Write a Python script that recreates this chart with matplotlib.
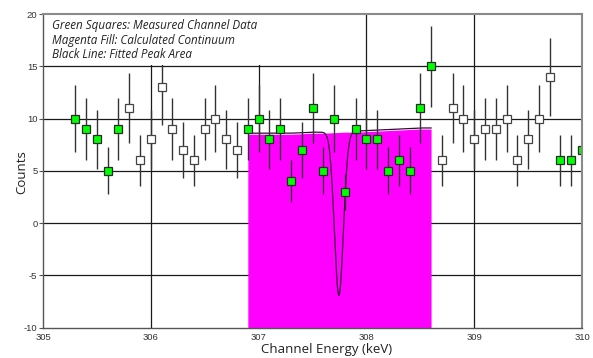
import numpy as np
import matplotlib
matplotlib.use("Agg")
import matplotlib.pyplot as plt
from matplotlib.patches import Rectangle

# ---- data ----
energy = [305.3, 305.4, 305.5, 305.6, 305.7, 305.8, 305.9, 306.0, 306.1, 306.2,
          306.3, 306.4, 306.5, 306.6, 306.7, 306.8, 306.9, 307.0, 307.1, 307.2,
          307.3, 307.4, 307.5, 307.6, 307.7, 307.8, 307.9, 308.0, 308.1, 308.2,
          308.3, 308.4, 308.5, 308.6, 308.7, 308.8, 308.9, 309.0, 309.1, 309.2,
          309.3, 309.4, 309.5, 309.6, 309.7, 309.8, 309.9, 310.0]
counts = [10, 9, 8, 5, 9, 11, 6, 8, 13, 9,
          7, 6, 9, 10, 8, 7, 9, 10, 8, 9,
          4, 7, 11, 5, 10, 3, 9, 8, 8, 5,
          6, 5, 11, 15, 6, 11, 10, 8, 9, 9,
          10, 6, 8, 10, 14, 6, 6, 7]
measured = [1, 1, 1, 1, 1, 0, 0, 0, 0, 0,
            0, 0, 0, 0, 0, 0, 1, 1, 1, 1,
            1, 1, 1, 1, 1, 1, 1, 1, 1, 1,
            1, 1, 1, 1, 0, 0, 0, 0, 0, 0,
            0, 0, 0, 0, 0, 1, 1, 1]

cont_energy = [306.9, 307.0, 307.1, 307.2, 307.3, 307.4, 307.5, 307.6, 307.7,
               307.8, 307.9, 308.0, 308.1, 308.2, 308.3, 308.4, 308.5, 308.6]
continuum = [8.5, 8.5, 8.5, 8.5, 8.5, 8.55, 8.6, 8.6, 8.65,
             8.7, 8.7, 8.75, 8.8, 8.85, 8.9, 8.95, 9.0, 9.0]

peak_centroid = 307.745
peak_sigma = 0.042
peak_height = 15.67

legend_lines = ["Green Squares: Measured Channel Data",
                "Magenta Fill: Calculated Continuum",
                "Black Line: Fitted Peak Area"]
x_ticks = [305, 306, 307, 308, 309, 310]
y_ticks = [-10, -5, 0, 5, 10, 15, 20]

# ---- figure ----
fig = plt.figure(figsize=(5.93, 3.58), dpi=100)
ax = fig.add_axes([43/593, 1-327.7/358, (582-43)/593, (327.7-14)/358])
ax.set_xlim(305, 310)
ax.set_ylim(-10, 20)

# grid
for yv in [-5, 0, 5, 10, 15]:
    ax.axhline(yv, color='#1a1a1a', lw=0.9, zorder=0.5)
for xv in [306, 307, 308, 309]:
    ax.axvline(xv, color='#1a1a1a', lw=0.9, zorder=0.5)

# continuum fill
ax.fill_between(cont_energy, -10, continuum, color='#FF00FF', lw=0, zorder=2)

# fitted peak line
xf = np.linspace(cont_energy[0], cont_energy[-1], 800)
base = np.interp(xf, cont_energy, continuum)
yf = base - peak_height * np.exp(-0.5 * ((xf - peak_centroid) / peak_sigma) ** 2)
ax.plot(xf, yf + 0.1, color='#3a0a3a', lw=0.9, zorder=3)

# error bars + markers
e = np.asarray(energy)
c = np.asarray(counts, dtype=float)
m = np.asarray(measured, dtype=bool)
err = np.sqrt(c)
ax.errorbar(e, c, yerr=err, fmt='none', ecolor='#333333', elinewidth=1.0,
            capsize=0, zorder=4)
ax.plot(e[m], c[m], ls='none', marker='s', ms=6.2, mfc='#00FF00',
        mec='#2a2a2a', mew=0.9, zorder=5)
ax.plot(e[~m], c[~m], ls='none', marker='s', ms=6.2, mfc='white',
        mec='#444444', mew=0.9, zorder=5)

# white legend box
ax.add_patch(Rectangle((305.0, 15.12), 2.3, 4.85, facecolor='white',
                       edgecolor='none', zorder=6))
ytxt = [29, 44, 58.5]
for t, yp in zip(legend_lines, ytxt):
    fig.text(52/593, 1-yp/358, t, fontsize=8.4, style='italic',
             family=['Open Sans', 'DejaVu Sans'], color='#222222',
             va='baseline', ha='left', zorder=7)

# spines
for s in ['left', 'bottom']:
    ax.spines[s].set_color('#555555')
    ax.spines[s].set_linewidth(1.0)
for s in ['top', 'right']:
    ax.spines[s].set_color('#8a8a8a')
    ax.spines[s].set_linewidth(1.5)
for s in ax.spines.values():
    s.set_zorder(8)

ax.set_xticks(x_ticks)
ax.set_yticks(y_ticks)
ax.set_xticklabels([str(v) for v in x_ticks])
ax.set_yticklabels([str(v) for v in y_ticks])
tick_font = ['Liberation Sans Narrow', 'Liberation Sans', 'DejaVu Sans']
for lab in ax.get_xticklabels() + ax.get_yticklabels():
    lab.set_family(tick_font)
    lab.set_fontsize(6.8)
    lab.set_color('#333333')
ax.tick_params(axis='y', direction='out', length=3, width=0.8, color='#555555', pad=1)
ax.tick_params(axis='x', direction='out', length=0, pad=4)

fig.text(327/593, 1-349/358, "Channel Energy (keV)", fontsize=9.5,
         family=['Open Sans', 'DejaVu Sans'], color='#222222',
         ha='center', va='center')
fig.text(22/593, 1-172/358, "Counts", fontsize=9.5, rotation=90,
         family=['Open Sans', 'DejaVu Sans'], color='#222222',
         ha='center', va='center')

fig.savefig("out.png", dpi=100, facecolor='white')
